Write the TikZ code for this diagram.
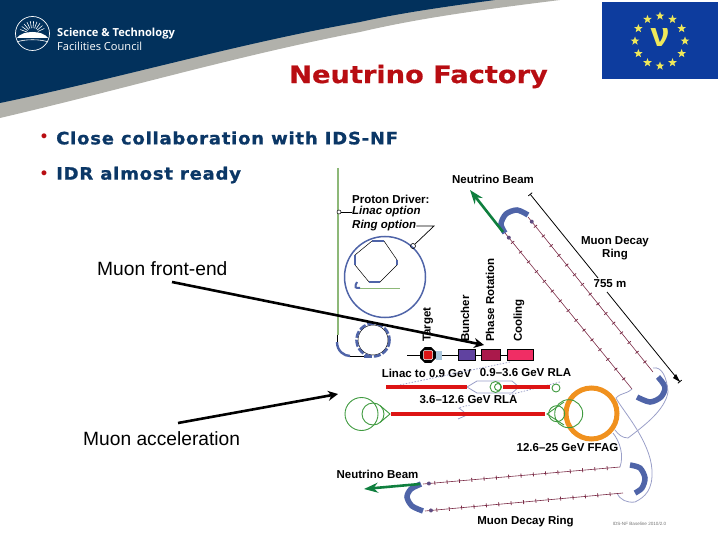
\documentclass[tikz,border=0pt]{standalone}
\usepackage{fontspec}
\setmainfont{Liberation Sans}
\newfontfamily\titlefont[FakeStretch=1.135,BoldFeatures={FakeBold=0.6}]{DejaVu Sans}
\newfontfamily\bodyfont[FakeStretch=1.06,LetterSpace=4.5,BoldFeatures={FakeBold=0.9}]{DejaVu Sans}
\newfontfamily\headfont{DejaVu Sans}
\newfontfamily\logofont{Open Sans}
\usetikzlibrary{arrows.meta,decorations.markings,calc,shapes.geometric,shapes.misc}
\definecolor{navy}{HTML}{02315C}
\definecolor{bandgray}{HTML}{B1B1AB}
\definecolor{titlered}{HTML}{B80D12}
\definecolor{bodyblue}{HTML}{0B3766}
\definecolor{flagblue}{HTML}{0D3C9E}
\definecolor{staryellow}{HTML}{EFE85A}
\definecolor{magblue}{HTML}{4F64A8}
\definecolor{lav}{HTML}{9A9FC8}
\definecolor{beamgreen}{HTML}{0F7F3E}
\definecolor{rfgreen}{HTML}{3F9A3F}
\definecolor{paleGreen}{HTML}{8DB878}
\definecolor{linacred}{HTML}{DD1414}
\definecolor{ffag}{HTML}{F0911E}
\definecolor{tickred}{HTML}{7A2A45}
\definecolor{hornblue}{HTML}{A9C6DC}
\definecolor{bunchercol}{HTML}{6042A0}
\definecolor{phasecol}{HTML}{AA194B}
\definecolor{coolcol}{HTML}{F02D64}
\tikzset{
  x=1pt,y=-1pt,
  lab/.style={font=\fontsize{11.5}{13}\selectfont\bfseries,text=black,inner sep=0pt},
  rotlab/.style={lab,rotate=90,anchor=west},
  bigarrow/.style={line width=2.6pt,black,-{Stealth[length=10pt,width=10pt]}},
  greenarrow/.style={line width=2.6pt,beamgreen,-{Stealth[length=14pt,width=10pt]}},
  magnet/.style={line width=5.5pt,magblue},
  lavline/.style={line width=.8pt,lav},
  rfcirc/.style={draw=rfgreen,line width=.9pt},
  redlinac/.style={line width=4pt,linacred},
  dist/.style={line width=.8pt,black},
  decayline/.style={line width=.6pt,tickred,postaction={decorate},
    decoration={markings,mark=between positions 0.06 and 0.99 step 0.0625 with {\draw[tickred,line width=.8pt] (0pt,-2pt)--(0pt,2pt);},
    mark=at position 0.03 with {\fill[magblue!60!tickred] (0pt,0pt) circle (2pt);}}},
  hardware/.style={draw=black,line width=.6pt,inner sep=0pt},
  bodytext/.style={font=\bodyfont\fontsize{17}{20}\selectfont\bfseries,text=bodyblue,anchor=west,inner sep=0pt},
  bulletmark/.style={font=\headfont\fontsize{14}{16}\selectfont\bfseries,text=titlered,inner sep=0pt},
  biglabel/.style={font=\fontsize{19.2}{22}\selectfont,text=black,anchor=west,inner sep=0pt},
  flagstar/.style={star,star points=5,star point ratio=2.4,fill=staryellow,inner sep=0pt,minimum size=9pt},
}
\begin{document}
\begin{tikzpicture}
\useasboundingbox (0,0) rectangle (720,540);
% header band
\fill[bandgray] (0,0) -- (560,0) .. controls (480,10) and (420,18) .. (360,32) .. controls (240,55) and (120,90) .. (0,118) -- cycle;
\fill[navy] (0,0) -- (495,0) .. controls (450,6) and (400,13) .. (360,22) .. controls (240,43) and (120,78) .. (0,103) -- cycle;
% logo
\draw[white,line width=.7pt] (32.5,33.5) circle (17);
\fill[white] (17,38) .. controls (22,30) and (43,30) .. (48,38) -- cycle;
\foreach \a in {200,215,...,340} \draw[white,line width=.6pt] ($(32.5,34)+(\a:6)$) -- ($(32.5,34)+(\a:13)$);
\draw[white,line width=.6pt] (17,42) .. controls (24,39) and (41,39) .. (48,42);
\node[anchor=west,inner sep=0pt,text=white,font=\logofont\fontsize{11.1}{13}\selectfont\bfseries] (logoA) at (57,34) {Science \& Technology};
\node[anchor=west,inner sep=0pt,text=white,font=\logofont\fontsize{11.1}{13}\selectfont] (logoB) at (57,46) {Facilities Council};
% flag
\fill[flagblue] (602,2) rectangle (718,79);
\foreach \a in {0,30,...,330} \node[flagstar] at ($(660,41)+(\a:25)$) {};
\node[text=staryellow,inner sep=0pt,font=\fontsize{34}{34}\selectfont\bfseries] (nu) at (660,38) {ν};
% title and bullets
\node[inner sep=0pt,text=titlered,font=\titlefont\fontsize{24}{26}\selectfont\bfseries] (title) at (418.5,76.5) {Neutrino Factory};
\node[bulletmark] (b1) at (44,138) {•};
\node[bodytext] (t1) at (56,138) {Close collaboration with IDS-NF};
\node[bulletmark] (b2) at (44,175) {•};
\node[bodytext] (t2) at (56,175) {IDR almost ready};
% proton driver
\draw[paleGreen,line width=1.2pt] (338,168) -- (338,335);
\node[draw=black,circle,line width=.5pt,inner sep=0pt,minimum size=4pt,fill=white] (linacpt) at (339,212) {};
\node[lab,anchor=west] (pd) at (352,199) {Proton Driver:};
\node[lab,anchor=west,font=\fontsize{11.5}{13}\selectfont\bfseries\itshape] (lo) at (352,212) {Linac option};
\node[lab,anchor=west,font=\fontsize{11.5}{13}\selectfont\bfseries\itshape] (ro) at (352,226) {Ring option};
\draw[line width=.8pt] (linacpt) -- (lo);
\draw[magblue,line width=1.5pt] (385,277) circle (40.5);
\node[draw=black,circle,line width=.6pt,inner sep=0pt,minimum size=5pt] (ringpt) at (413,246) {};
\coordinate (roElbow) at (434,226);
\draw[line width=.7pt] (ro) -- (roElbow) -- (ringpt);
\draw[line width=.5pt,black] (372,241) -- (384,241) -- (397,260) -- (397,265) -- (380,282) -- (369,282) -- (355,265) -- (355,255) -- cycle;
\draw[magblue,line width=2pt] (372,241) -- (384,241) (397,260) -- (397,265) (380,282) -- (369,282) (355,265) -- (355,255);
\draw[magblue,line width=2pt] (357,282) .. controls (354,288) and (355,288) .. (360,288);
\draw[paleGreen,line width=.7pt] (360,288) -- (400,288);
% small ring and hook
\draw[black,line width=.5pt] (373,340) circle (15);
\draw[magblue,line width=2.6pt,dash pattern=on 7pt off 2pt] (373,340) circle (16.5);
\draw[magblue,line width=2.4pt] (337,342) .. controls (337,351) and (344,356) .. (350,356);
\draw[black,line width=.8pt] (337,335) -- (337,342) (350,356) -- (364,356);
\draw[magblue,line width=3pt] (364,356) -- (372,356);
% front-end train
\draw[black,line width=.6pt] (407,355) -- (458,355) (475,355) -- (481,355) (500,355) -- (507,355);
\node[regular polygon,regular polygon sides=8,fill=black,minimum size=17pt,inner sep=0pt] (tgt) at (428,355) {};
\node[draw=white,fill=linacred,rounded corners=1pt,line width=.5pt,minimum size=9pt,inner sep=0pt] (tgtin) at (428,355) {};
\node[hardware,draw=hornblue,fill=hornblue,minimum width=5pt,minimum height=8pt] (horn) at (438.5,355) {};
\node[hardware,fill=bunchercol,minimum width=17pt,minimum height=11pt] (buncher) at (466.5,355) {};
\node[hardware,fill=phasecol,minimum width=19pt,minimum height=11pt] (phaserot) at (490.5,355) {};
\node[hardware,fill=coolcol,minimum width=26pt,minimum height=11pt] (cooling) at (520,355) {};
\node[rotlab] (lt) at (428,342) {Target};
\node[rotlab] (lb) at (465,342) {Buncher};
\node[rotlab] (lp) at (490,342) {Phase Rotation};
\node[rotlab] (lc) at (519,342) {Cooling};
% decay ring top
\node[lab] (nb1) at (493,179) {Neutrino Beam};
\node[lab,align=center] (mdr1) at (615,248) {Muon Decay\\Ring};
\coordinate (d1a) at (528,217); \coordinate (d1b) at (653,372);
\coordinate (d2a) at (505,233); \coordinate (d2b) at (632,389);
\draw[decayline] (d1a) -- (d1b);
\draw[decayline] (d2a) -- (d2b);
\draw[magnet] plot[smooth] coordinates {(505,233) (501,224) (506,214) (517,210) (528,215)};
\draw[magnet] plot[smooth] coordinates {(637,397) (650,402) (661,397) (665,387) (658,377)};
\coordinate (nbtail1) at (503,232); \coordinate (nbtip1) at (470,190);
\draw[greenarrow] (nbtail1) -- (nbtip1);
% distance
\node[lab,inner sep=2pt] (dim) at (610,284) {755 m};
\coordinate (dimA) at (530,194); \coordinate (dimB) at (680,382);
\draw[dist,{Bar[width=5pt]}-] (dimA) -- (598,278);
\draw[dist,-{Bar[width=5pt]}] (607,292) -- (dimB);
\fill[black] (676,374) -- (680,382) -- (673,378) -- cycle;
% connections (lavender)
\draw[lavline] (632,389) .. controls (625,395) and (622,392) .. (616,398) .. controls (622,410) and (650,440) .. (652,470) .. controls (653,490) and (645,497) .. (635,502) .. controls (627,503) and (620,500) .. (617,493);
\draw[lavline] (653,368) .. controls (662,366) and (667,378) .. (668,392) .. controls (665,410) and (645,425) .. (628,438) .. controls (622,438) and (618,434) .. (615,430);
\draw[lavline] (613,433) .. controls (620,442) and (624,455) .. (620,467);
% accelerators
\node[lab] (l09) at (426.5,373) {Linac to 0.9 GeV};
\node[lab] (l36) at (525.5,373) {0.9–3.6 GeV RLA};
\draw[lavline,dash pattern=on 1.5pt off 1.5pt] (510,362) -- (390,387);
\draw[lavline,dash pattern=on 1.5pt off 1.5pt] (560,382) -- (458,408);
\draw[lavline] (467,387) -- (477,381) -- (512,381) -- (519,387) -- (512,393) -- (477,393) -- cycle;
\draw[lavline] (459,408) -- (464,412) (458,419) -- (467,415);
\draw[redlinac] (386,387) -- (467,387);
\draw[redlinac] (503,387) -- (550,387);
\draw[rfcirc] (495.5,387) circle (5.5);
\draw[rfcirc] (498,387) circle (3.5);
\draw[rfcirc] (556,388) circle (4);
\node[lab,fill=white,inner sep=.5pt] (l126) at (468.5,400) {3.6–12.6 GeV RLA};
\draw[redlinac] (391,414) -- (545,414);
\draw[rfcirc] (361.5,414) circle (16.5);
\draw[rfcirc] (373,414) circle (11);
\draw[rfcirc] (380.1,405.6) -- (390,414) -- (380.1,422.4);
\draw[ffag,line width=5pt] (591.5,413.5) circle (25.5);
\draw[rfcirc] (568.7,413.7) circle (14);
\draw[rfcirc] (556.7,413.7) circle (8);
\draw[rfcirc] (564,402) -- (547,414) -- (564,425);
\node[lab] (lf) at (567.5,448) {12.6–25 GeV FFAG};
% decay ring bottom
\node[lab] (nb2) at (377.5,474) {Neutrino Beam};
\node[lab] (mdr2) at (525.5,522) {Muon Decay Ring};
\coordinate (d3a) at (423,484); \coordinate (d3b) at (620,467);
\coordinate (d4a) at (425,511); \coordinate (d4b) at (623,493);
\draw[decayline] (d3a) -- (d3b);
\draw[decayline] (d4a) -- (d4b);
\draw[magnet] plot[smooth] coordinates {(421,484) (411,489) (407,497) (412,506) (423,511)};
\draw[magnet] plot[smooth] coordinates {(630,465) (640,468) (645,478) (642,488) (635,493)};
\coordinate (nbtail2) at (420,484); \coordinate (nbtip2) at (364,489);
\draw[greenarrow] (nbtail2) -- (nbtip2);
\node[inner sep=0pt,text=black!55,font=\fontsize{4.6}{5}\selectfont] (idsnote) at (639.5,524) {IDS-NF Baseline 2010/2.0};
% big labels and arrows
\node[biglabel] (fe) at (97,269) {Muon front-end};
\node[biglabel] (ma) at (83,439) {Muon acceleration};
\coordinate (feStart) at (172,282); \coordinate (feEnd) at (484,345);
\coordinate (maStart) at (178,423); \coordinate (maEnd) at (338,394);
\draw[bigarrow] (feStart) -- (feEnd);
\draw[bigarrow] (maStart) -- (maEnd);
\end{tikzpicture}
\end{document}
